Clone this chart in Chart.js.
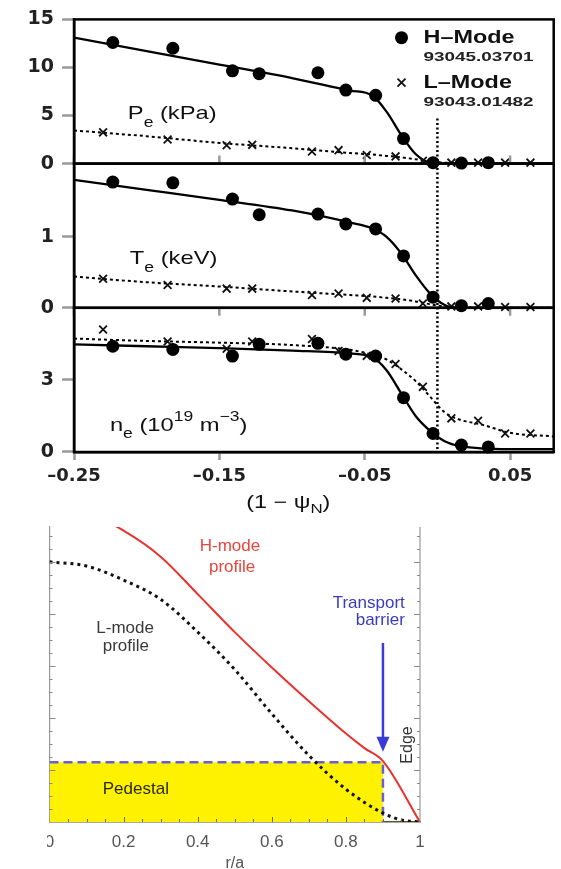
<!DOCTYPE html>
<html><head><meta charset="utf-8">
<script src="https://cdn.jsdelivr.net/npm/chart.js@4/dist/chart.umd.min.js"></script>
<style>
html,body{margin:0;padding:0;background:#fff;width:561px;height:869px;overflow:hidden}
#top{position:absolute;left:0;top:0}
#botwrap{position:absolute;left:47px;top:515px;width:514px;height:354px;overflow:hidden}
#bot{position:absolute;left:-47px;top:0}
</style></head><body>
<canvas id="top" width="561" height="520"></canvas>
<div id="botwrap"><canvas id="bot" width="561" height="354"></canvas></div>
<script>
// ---------- top figure data ----------
const xTicks = [-0.25, -0.15, -0.05, 0.05];
const xTickLabels = ['–0.25', '–0.15', '–0.05', '0.05'];
const peTicks = [0, 5, 10, 15];
const teTicks = [0, 1];
const neTicks = [0, 3];

// H-mode measurement positions (1 - psi_N)
const hX = [-0.2233, -0.182, -0.141, -0.1226, -0.0822, -0.063, -0.0425, -0.0233, -0.003, 0.0165, 0.035];
const peH = [12.6, 12.0, 9.65, 9.35, 9.45, 7.65, 7.1, 2.6, 0.1, 0.05, 0.1];
const teH = [1.77, 1.76, 1.53, 1.31, 1.32, 1.18, 1.11, 0.73, 0.15, 0.03, 0.06];
const neH = [4.40, 4.27, 3.99, 4.48, 4.52, 4.07, 3.99, 2.26, 0.77, 0.29, 0.21];

// L-mode measurement positions
const lX = [-0.230, -0.1856, -0.145, -0.1274, -0.0863, -0.068, -0.0486, -0.0288, -0.010, 0.0096, 0.028, 0.0466, 0.064];
const peL = [3.25, 2.5, 1.9, 1.95, 1.25, 1.4, 0.9, 0.75, 0.3, 0.1, 0.1, 0.1, 0.1];
const teL = [0.41, 0.32, 0.27, 0.27, 0.18, 0.2, 0.14, 0.13, 0.06, 0.02, 0.02, 0.01, 0.01];
const neL = [5.1, 4.6, 4.3, 4.6, 4.7, 4.2, 4.0, 3.66, 2.71, 1.4, 1.3, 0.77, 0.77];

// fit curves
const fitX = [-0.25, -0.2, -0.15, -0.1, -0.06, -0.045, -0.035, -0.025, -0.015, -0.005, 0.005, 0.015, 0.03, 0.05, 0.08];
const peHfit = [13.1, 11.7, 10.3, 8.9, 7.6, 7.1, 5.4, 3.0, 1.0, 0.1, 0, 0, 0, 0, 0];
const peLfit = [3.45, 2.85, 2.15, 1.6, 1.1, 0.95, 0.8, 0.65, 0.45, 0.25, 0.1, 0.05, 0.02, 0, 0];
const teHfit = [1.80, 1.66, 1.52, 1.37, 1.20, 1.12, 1.0, 0.77, 0.46, 0.2, 0.04, 0, 0, 0, 0];
const teLfit = [0.44, 0.36, 0.30, 0.23, 0.18, 0.16, 0.14, 0.12, 0.09, 0.05, 0.02, 0.01, 0, 0, 0];
const neHfit = [4.48, 4.40, 4.32, 4.22, 4.10, 3.95, 3.4, 2.45, 1.5, 0.88, 0.45, 0.25, 0.15, 0.12, 0.12];
const neLfit = [4.72, 4.62, 4.55, 4.45, 4.25, 4.05, 3.85, 3.45, 2.95, 2.3, 1.65, 1.35, 1.15, 0.8, 0.65];

// ---------- bottom figure data ----------
const rTicks = [0, 0.2, 0.4, 0.6, 0.8, 1];
const rTickLabels = ['0', '0.2', '0.4', '0.6', '0.8', '1'];
const hR = [0, 0.1, 0.2, 0.3, 0.4, 0.5, 0.6, 0.7, 0.8, 0.85, 0.9, 1.0];
const hProfile = [6.05, 5.95, 5.6, 5.1, 4.38, 3.65, 2.97, 2.32, 1.70, 1.42, 1.17, 0];
const lR = [0, 0.1, 0.2, 0.3, 0.4, 0.5, 0.6, 0.7, 0.8, 0.9, 0.95, 1.0];
const lProfile = [5.0, 4.92, 4.65, 4.28, 3.65, 2.93, 2.08, 1.28, 0.63, 0.17, 0.04, 0];
const pedR = [0, 0.9, 0.9];
const pedV = [1.15, 1.15, 0];

// ---------- helpers ----------
const pts = (xs, ys) => xs.map((x, i) => ({x: x, y: ys[i]}));
const FONT = '"Liberation Sans", Arial, sans-serif';

function runs(ctx, x, y, list, color, sx) {
  ctx.save();
  ctx.fillStyle = color; ctx.textBaseline = 'middle'; ctx.textAlign = 'left';
  let cx = x;
  for (const r of list) {
    const [t, size, dy, w] = r;
    ctx.font = (w || 'normal') + ' ' + size + 'px ' + FONT;
    const wd = ctx.measureText(t).width * sx;
    ctx.save(); ctx.translate(cx, y + (dy || 0)); ctx.scale(sx, 1); ctx.fillText(t, 0, 0); ctx.restore();
    cx += wd;
  }
  ctx.restore();
}

function yAxis(min, max, ticks) {
  return {
    type: 'linear', position: 'left', stack: 'panels', stackWeight: 1, min: min, max: max,
    afterBuildTicks: s => { s.ticks = ticks.map(v => ({value: v})); },
    afterFit: s => { s.width = 74; },
    ticks: { font: {family: 'DejaVu Sans', size: 19, weight: 'bold'}, color: '#222', padding: 8,
             callback: (v, i) => String(ticks[i]) },
    grid: { drawOnChartArea: false, drawTicks: true, tickLength: 12, tickWidth: 2.5, tickColor: '#9a9a9a', color: '#9a9a9a' },
    border: { display: true, color: '#000', width: 2.5 }
  };
}

function pointSets(yId, hY, lY) {
  return [
    {label: 'H–Mode', data: pts(hX, hY), yAxisID: yId, showLine: false, pointStyle: 'circle', pointRadius: 6.5,
     pointBackgroundColor: '#000', pointBorderColor: '#000', pointBorderWidth: 0, clip: false},
    {label: 'L–Mode', data: pts(lX, lY), yAxisID: yId, showLine: false, pointStyle: 'crossRot', pointRadius: 5.5,
     pointBorderColor: '#111', borderColor: '#111', pointBorderWidth: 1.8, clip: false}
  ];
}
function fitSets(yId, hF, lF) {
  return [
    {label: 'H fit', data: pts(fitX, hF), yAxisID: yId, borderColor: '#000', borderWidth: 2.3, pointRadius: 0,
     cubicInterpolationMode: 'monotone', fill: false},
    {label: 'L fit', data: pts(fitX, lF), yAxisID: yId, borderColor: '#000', borderWidth: 2, borderDash: [3, 3],
     pointRadius: 0, cubicInterpolationMode: 'monotone', fill: false}
  ];
}

const topDeco = {
  id: 'topDeco',
  beforeDatasetsDraw(chart) {
    const {ctx, scales} = chart;
    const x0 = scales.x.getPixelForValue(0);
    ctx.save();
    ctx.strokeStyle = '#000'; ctx.lineWidth = 2.5; ctx.setLineDash([2, 2.5]);
    ctx.beginPath();
    ctx.moveTo(x0, scales.yPe.getPixelForValue(4.7));
    ctx.lineTo(x0, scales.yNe.bottom);
    ctx.stroke();
    ctx.restore();
  },
  afterDraw(chart) {
    const {ctx, chartArea: a, scales} = chart;
    const X = scales.x;
    ctx.save();
    ctx.strokeStyle = '#9a9a9a'; ctx.lineWidth = 2.5;
    for (const v of xTicks) {
      const px = X.getPixelForValue(v);
      ctx.beginPath();
      ctx.moveTo(px, scales.yPe.bottom); ctx.lineTo(px, scales.yPe.bottom - 8);
      ctx.moveTo(px, scales.yNe.top); ctx.lineTo(px, scales.yNe.top + 8);
      ctx.stroke();
    }
    ctx.strokeStyle = '#000'; ctx.lineWidth = 2.5;
    for (const id of ['yPe', 'yTe', 'yNe']) {
      const s = scales[id];
      ctx.strokeRect(a.left, s.top, a.right - a.left, s.bottom - s.top);
    }
    ctx.restore();

    const sx = 1.25;
    runs(ctx, X.getPixelForValue(-0.213), scales.yPe.getPixelForValue(5.14),
      [['P', 19], ['e', 14, 9], [' (kPa)', 19]], '#111', sx);
    runs(ctx, X.getPixelForValue(-0.2116), scales.yTe.getPixelForValue(0.69),
      [['T', 19], ['e', 14, 9], [' (keV)', 19]], '#111', sx);
    runs(ctx, X.getPixelForValue(-0.2253), scales.yNe.getPixelForValue(1.11),
      [['n', 19], ['e', 14, 9], [' (10', 19], ['19', 14, -8], [' m', 19], ['−3', 14, -8], [')', 19]], '#111', sx);

    const lx = X.getPixelForValue(-0.0247);
    const ly1 = scales.yPe.getPixelForValue(13.1);
    const ly2 = ly1 + 45;
    ctx.save();
    ctx.fillStyle = '#000';
    ctx.beginPath(); ctx.arc(lx, ly1, 6.5, 0, Math.PI * 2); ctx.fill();
    ctx.strokeStyle = '#111'; ctx.lineWidth = 1.8;
    ctx.beginPath();
    ctx.moveTo(lx - 4, ly2 - 4); ctx.lineTo(lx + 4, ly2 + 4);
    ctx.moveTo(lx - 4, ly2 + 4); ctx.lineTo(lx + 4, ly2 - 4);
    ctx.stroke();
    ctx.restore();
    runs(ctx, lx + 22, ly1, [['H–Mode', 18, 0, 'bold']], '#111', 1.3);
    runs(ctx, lx + 22, ly1 + 20, [['93045.03701', 13, 0, 'bold']], '#222', 1.45);
    runs(ctx, lx + 22, ly2, [['L–Mode', 18, 0, 'bold']], '#111', 1.3);
    runs(ctx, lx + 22, ly2 + 20, [['93043.01482', 13, 0, 'bold']], '#222', 1.45);

    runs(ctx, X.getPixelForValue(-0.1315), X.bottom - 17,
      [['(1 − ψ', 18], ['N', 13, 6], [')', 18]], '#111', 1.3);
  }
};

const topDatasets = []
  .concat(pointSets('yPe', peH, peL), pointSets('yTe', teH, teL), pointSets('yNe', neH, neL))
  .concat(fitSets('yPe', peHfit, peLfit), fitSets('yTe', teHfit, teLfit), fitSets('yNe', neHfit, neLfit));

new Chart(document.getElementById('top'), {
  type: 'line',
  data: {datasets: topDatasets},
  options: {
    animation: false, responsive: false, devicePixelRatio: 1,
    layout: {padding: {top: 19, right: 5, left: 0, bottom: 0}},
    plugins: {legend: {display: false}, tooltip: {enabled: false}},
    scales: {
      x: {
        type: 'linear', min: -0.25, max: 0.08,
        afterBuildTicks: s => { s.ticks = xTicks.map(v => ({value: v})); },
        afterFit: s => { s.height = 68; },
        ticks: {callback: (v, i) => xTickLabels[i], font: {family: 'DejaVu Sans', size: 18, weight: 'bold'},
                color: '#222', padding: 6, maxRotation: 0, autoSkip: false},
        grid: {drawOnChartArea: false, tickLength: 8, tickWidth: 2.5, tickColor: '#9a9a9a'},
        border: {color: '#000', width: 2.5}
      },
      yNe: yAxis(0, 6, neTicks),
      yTe: yAxis(0, 2.03, teTicks),
      yPe: yAxis(0, 15, peTicks)
    }
  },
  plugins: [topDeco]
});

// ---------- bottom figure ----------
const botDeco = {
  id: 'botDeco',
  afterDatasetsDraw(chart) {
    const {ctx, chartArea: a, scales} = chart;
    const X = scales.x, Y = scales.y;
    ctx.save();
    const xr = X.getPixelForValue(1);
    ctx.strokeStyle = '#9a9a9a'; ctx.lineWidth = 1.2;
    ctx.beginPath(); ctx.moveTo(xr, a.top); ctx.lineTo(xr, a.bottom); ctx.stroke();
    ctx.strokeStyle = '#8a8a8a'; ctx.lineWidth = 1;
    for (let v = 0.25; v < 5.67; v += 0.25) {
      const py = Math.round(Y.getPixelForValue(v)) + 0.5;
      const len = Math.abs(v - Math.round(v)) < 1e-6 ? 6 : 3;
      ctx.beginPath();
      ctx.moveTo(a.left, py); ctx.lineTo(a.left + len, py);
      ctx.moveTo(xr, py); ctx.lineTo(xr - len, py);
      ctx.stroke();
    }
    ctx.strokeStyle = '#6a6a40';
    for (let k = 1; k < 20; k++) {
      const v = k * 0.05;
      const px = Math.round(X.getPixelForValue(v)) + 0.5;
      const len = k % 4 === 0 ? 5 : 3;
      ctx.beginPath(); ctx.moveTo(px, a.bottom); ctx.lineTo(px, a.bottom - len); ctx.stroke();
    }
    const ax = X.getPixelForValue(0.9);
    ctx.strokeStyle = '#3b3bd6'; ctx.fillStyle = '#3b3bd6'; ctx.lineWidth = 2.5;
    ctx.beginPath(); ctx.moveTo(ax, Y.getPixelForValue(3.44)); ctx.lineTo(ax, Y.getPixelForValue(1.62)); ctx.stroke();
    const tip = Y.getPixelForValue(1.35);
    ctx.beginPath(); ctx.moveTo(ax - 6.5, tip - 15); ctx.lineTo(ax + 6.5, tip - 15); ctx.lineTo(ax, tip); ctx.closePath(); ctx.fill();
    ctx.restore();

    const t = (txt, xv, yv, color, align) => {
      ctx.save();
      ctx.font = '17px ' + FONT; ctx.fillStyle = color; ctx.textBaseline = 'middle';
      ctx.textAlign = align || 'center';
      ctx.fillText(txt, X.getPixelForValue(xv), Y.getPixelForValue(yv));
      ctx.restore();
    };
    t('H-mode', 0.487, 5.29, '#e8453c');
    t('profile', 0.493, 4.9, '#e8453c');
    t('L-mode', 0.204, 3.73, '#3a3a3a');
    t('profile', 0.206, 3.37, '#3a3a3a');
    t('Transport', 0.959, 4.21, '#3b3bc0', 'right');
    t('barrier', 0.959, 3.87, '#3b3bc0', 'right');
    t('Pedestal', 0.233, 0.62, '#2a2a10');
    ctx.save();
    ctx.translate(X.getPixelForValue(0.966), Y.getPixelForValue(1.48));
    ctx.rotate(-Math.PI / 2);
    ctx.font = '16px ' + FONT; ctx.fillStyle = '#333'; ctx.textAlign = 'center'; ctx.textBaseline = 'middle';
    ctx.fillText('Edge', 0, 0);
    ctx.restore();
  }
};

new Chart(document.getElementById('bot'), {
  type: 'line',
  data: {datasets: [
    {label: 'H-mode profile', data: pts(hR, hProfile), borderColor: '#e8322e', borderWidth: 2, pointRadius: 0,
     cubicInterpolationMode: 'monotone', fill: false},
    {label: 'L-mode profile', data: pts(lR, lProfile), borderColor: '#111', borderWidth: 3, borderDash: [3, 4],
     pointRadius: 0, cubicInterpolationMode: 'monotone', fill: false},
    {label: 'Pedestal', data: pts(pedR, pedV), borderColor: '#6a5fd0', borderWidth: 2.5, borderDash: [9, 5],
     backgroundColor: '#fff200', fill: 'origin', pointRadius: 0, tension: 0}
  ]},
  options: {
    animation: false, responsive: false, devicePixelRatio: 1,
    layout: {padding: {top: 12, right: 141, left: 0, bottom: 0}},
    plugins: {legend: {display: false}, tooltip: {enabled: false}},
    scales: {
      x: {
        type: 'linear', min: 0, max: 1,
        afterBuildTicks: s => { s.ticks = rTicks.map(v => ({value: v})); },
        afterFit: s => { s.height = 47; },
        ticks: {callback: (v, i) => rTickLabels[i], font: {family: 'Liberation Sans', size: 17}, color: '#555',
                padding: 10, maxRotation: 0, autoSkip: false},
        grid: {display: false, drawTicks: false},
        border: {display: true, color: '#55553a', width: 1.5},
        title: {display: true, text: 'r/a', font: {family: 'Liberation Sans', size: 16, lineHeight: 1}, color: '#555',
                padding: {top: 0, bottom: -3}}
      },
      y: {
        type: 'linear', min: 0, max: 5.67,
        afterFit: s => { s.width = 49.5; },
        ticks: {display: false},
        grid: {display: false, drawTicks: false},
        border: {display: true, color: '#9a9a9a', width: 1.2}
      }
    }
  },
  plugins: [botDeco]
});
</script></body></html>
